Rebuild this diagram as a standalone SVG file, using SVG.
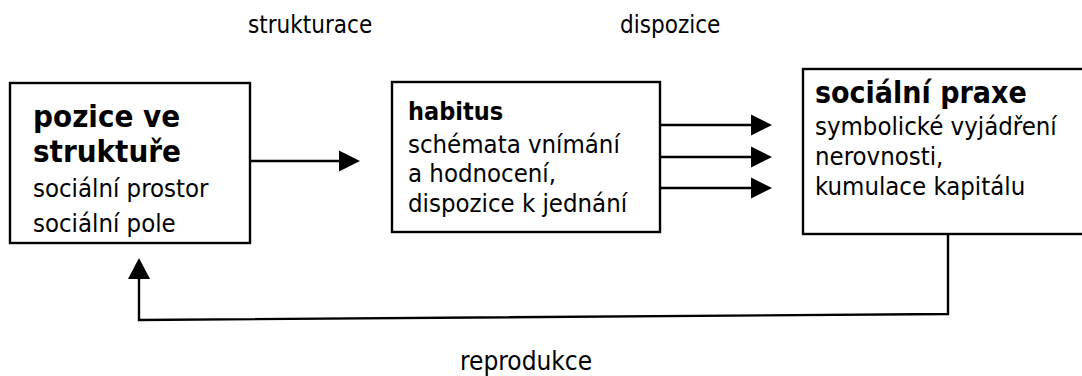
<svg xmlns="http://www.w3.org/2000/svg" width="1082" height="376" viewBox="0 0 1082 376">
  <style>
    .box { fill: #ffffff; stroke: #000000; stroke-width: 2.4; }
    .title { font-family: "DejaVu Sans Condensed", "DejaVu Sans", "Liberation Sans", sans-serif; font-weight: bold; fill: #000000; }
    .body { font-family: "DejaVu Sans Condensed", "DejaVu Sans", "Liberation Sans", sans-serif; font-size: 25.5px; fill: #000000; }
    .label { font-family: "DejaVu Sans Condensed", "DejaVu Sans", "Liberation Sans", sans-serif; font-size: 24px; fill: #000000; }
    .line { fill: none; stroke: #000000; stroke-width: 2.4; }
    .head { fill: #000000; stroke: none; }
  </style>

  <rect width="1082" height="376" fill="#ffffff"/>

  <!-- connectors -->
  <g id="connectors">
    <!-- position in structure -> habitus -->
    <line class="line" x1="250" y1="161" x2="341" y2="161"/>
    <polygon class="head" points="339,150.5 360,161 339,171.5"/>

    <!-- habitus -> social practice (three dispositions) -->
    <line class="line" x1="660" y1="125" x2="753" y2="125"/>
    <polygon class="head" points="751,114.5 772,125 751,135.5"/>
    <line class="line" x1="660" y1="157" x2="753" y2="157"/>
    <polygon class="head" points="751,146.5 772,157 751,167.5"/>
    <line class="line" x1="660" y1="188" x2="753" y2="188"/>
    <polygon class="head" points="751,177.5 772,188 751,198.5"/>

    <!-- reproduction loop back to position in structure -->
    <polyline class="line" points="948,234 948,314 139,320 139,277"/>
    <polygon class="head" points="128,279 139,258 150,279"/>
  </g>

  <!-- labels on the connectors -->
  <g id="labels">
    <text class="label" x="248" y="33">strukturace</text>
    <text class="label" x="620" y="33">dispozice</text>
    <text class="label" x="460" y="370" style="font-size:26px">reprodukce</text>
  </g>

  <g id="pozice">
    <rect class="box" x="10" y="83" width="240" height="160"/>
    <text class="title" x="33" y="127" font-size="31">pozice ve</text>
    <text class="title" x="33" y="162" font-size="31">struktuře</text>
    <text class="body" x="33" y="197">sociální prostor</text>
    <text class="body" x="33" y="232">sociální pole</text>
  </g>

  <g id="habitus">
    <rect class="box" x="392" y="82" width="268" height="150"/>
    <text class="title" x="408" y="120" font-size="25">habitus</text>
    <text class="body" x="408" y="153">schémata vnímání</text>
    <text class="body" x="408" y="182">a hodnocení,</text>
    <text class="body" x="408" y="212">dispozice k jednání</text>
  </g>

  <g id="praxe">
    <rect class="box" x="803" y="69" width="290" height="165"/>
    <text class="title" x="815" y="103" font-size="30">sociální praxe</text>
    <text class="body" x="815" y="135">symbolické vyjádření</text>
    <text class="body" x="815" y="165">nerovnosti,</text>
    <text class="body" x="815" y="195">kumulace kapitálu</text>
  </g>
</svg>
